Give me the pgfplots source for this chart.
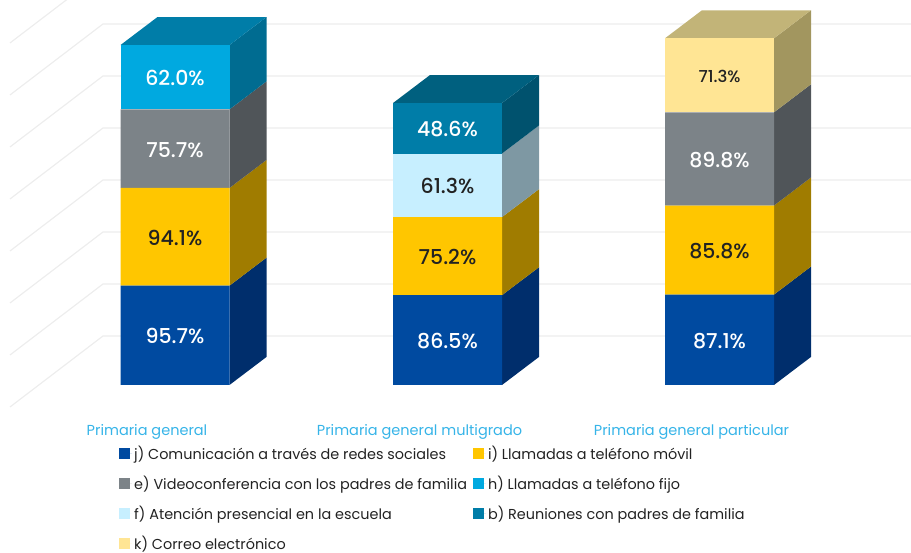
\documentclass[border=0pt]{standalone}
\usepackage{fontspec}
\setmainfont{Poppins}
\newfontfamily\medf{Poppins Medium}
\usepackage{pgfplots}
\pgfplotsset{compat=1.18}

\definecolor{cJ}{HTML}{004AA0}
\definecolor{cJs}{HTML}{002E6C}
\definecolor{cI}{HTML}{FFC600}
\definecolor{cIs}{HTML}{A07C00}
\definecolor{cE}{HTML}{7C8388}
\definecolor{cEs}{HTML}{505559}
\definecolor{cH}{HTML}{00A9E0}
\definecolor{cHs}{HTML}{006C91}
\definecolor{cHt}{HTML}{007DA8}
\definecolor{cF}{HTML}{C7EFFF}
\definecolor{cFs}{HTML}{7E98A3}
\definecolor{cB}{HTML}{007DA8}
\definecolor{cBs}{HTML}{00526E}
\definecolor{cBt}{HTML}{00607F}
\definecolor{cK}{HTML}{FFE594}
\definecolor{cKs}{HTML}{A2965F}
\definecolor{cKt}{HTML}{C2B478}
\definecolor{gridc}{HTML}{EDEDED}
\definecolor{catc}{HTML}{36B4E8}
\definecolor{txtc}{HTML}{222222}

\pgfplotsset{
  canvas/.style={
    at={(0,0)}, anchor=south west,
    x=1pt, y=1.038pt,
    xmin=0, xmax=911,
    ymin=-160.9, ymax=370.9,
  },
}

\begin{document}
\begin{tikzpicture}
\useasboundingbox (0,0) rectangle (911pt,552pt);

% grid and the sides of the boxes
\begin{axis}[canvas, hide axis]
\pgfplotsinvokeforeach{47.2,97.3,147.4,197.5,247.6,297.7,347.8,397.9}{
  \pgfmathsetmacro\yy{#1}
  \pgfmathsetmacro\yl{#1-68.4}
  \edef\tmp{\noexpand\addplot[gridc, line width=1.2pt, forget plot] coordinates {(10,\yl) (103,\yy) (911,\yy)};}
  \tmp
}
% Primaria general
\addplot[fill=cJs, draw=none] coordinates {(229.5,0) (266.5,27) (266.5,122.7) (229.5,95.7)};
\addplot[fill=cIs, draw=none] coordinates {(229.5,95.7) (266.5,122.7) (266.5,216.8) (229.5,189.8)};
\addplot[fill=cEs, draw=none] coordinates {(229.5,189.8) (266.5,216.8) (266.5,292.5) (229.5,265.5)};
\addplot[fill=cHs, draw=none] coordinates {(229.5,265.5) (266.5,292.5) (266.5,354.5) (229.5,327.5)};
\addplot[fill=cHt, draw=none] coordinates {(120.5,327.5) (229.5,327.5) (266.5,354.5) (157.5,354.5)};
% multigrado
\addplot[fill=cJs, draw=none] coordinates {(502,0) (539,27) (539,113.5) (502,86.5)};
\addplot[fill=cIs, draw=none] coordinates {(502,86.5) (539,113.5) (539,188.7) (502,161.7)};
\addplot[fill=cFs, draw=none] coordinates {(502,161.7) (539,188.7) (539,250) (502,223)};
\addplot[fill=cBs, draw=none] coordinates {(502,223) (539,250) (539,298.6) (502,271.6)};
\addplot[fill=cBt, draw=none] coordinates {(393,271.6) (502,271.6) (539,298.6) (430,298.6)};
% particular
\addplot[fill=cJs, draw=none] coordinates {(774,0) (811,27) (811,114.1) (774,87.1)};
\addplot[fill=cIs, draw=none] coordinates {(774,87.1) (811,114.1) (811,199.9) (774,172.9)};
\addplot[fill=cEs, draw=none] coordinates {(774,172.9) (811,199.9) (811,289.7) (774,262.7)};
\addplot[fill=cKs, draw=none] coordinates {(774,262.7) (811,289.7) (811,361) (774,334)};
\addplot[fill=cKt, draw=none] coordinates {(665,334) (774,334) (811,361) (702,361)};
\end{axis}

% front faces
\begin{axis}[canvas,
  ybar stacked,
  bar width=109pt,
  stacked ignores zero,
  axis line style={draw=none},
  tick style={draw=none},
  ytick=\empty,
  xtick={175,447.5,719.5},
  xticklabels={Primaria general,Primaria general multigrado,Primaria general particular},
  xtick pos=bottom,
  xticklabel style={font=\fontsize{14.5}{17}\selectfont, text=catc, xshift=-28pt, yshift=131pt},
  nodes near coords={\pgfmathprintnumber[fixed,fixed zerofill,precision=1,assume math mode=true]{\pgfplotspointmeta}\%},
  every node near coord/.append style={font=\medf\fontsize{20.5}{24}\selectfont, text=white, anchor=center, yshift=-1pt},
  legend columns=2,
  legend style={
    at={(axis cs:116,-55)}, anchor=north west,
    draw=none, fill=none,
    font=\fontsize{14.4}{17}\selectfont,
    text=txtc,
    cells={anchor=west},
    row sep=11pt,
    /tikz/every even column/.style={column sep=4pt},
  },
  legend image code/.code={\fill[#1] (0pt,-5pt) rectangle (10.5pt,5.5pt);\path (0pt,0pt) -- (13pt,0pt);},
]
\addplot[fill=cJ, draw=none] coordinates {(175,95.7) (447.5,86.5) (719.5,87.1)};
\addplot[fill=cI, draw=none, every node near coord/.append style={text=txtc}] coordinates {(175,94.1) (447.5,75.2) (719.5,85.8)};
\addplot[fill=cE, draw=none] coordinates {(175,75.7) (447.5,0) (719.5,89.8)};
\addplot[fill=cH, draw=none] coordinates {(175,62.0) (447.5,0) (719.5,0)};
\addplot[fill=cF, draw=none, every node near coord/.append style={text=txtc}] coordinates {(175,0) (447.5,61.3) (719.5,0)};
\addplot[fill=cB, draw=none] coordinates {(175,0) (447.5,48.6) (719.5,0)};
\addplot[fill=cK, draw=none, every node near coord/.append style={text=txtc, font=\medf\fontsize{16.5}{20}\selectfont}] coordinates {(175,0) (447.5,0) (719.5,71.3)};
\legend{j) Comunicación a través de redes sociales, i) Llamadas a teléfono móvil,
  e) Videoconferencia con los padres de familia, h) Llamadas a teléfono fijo,
  f) Atención presencial en la escuela, b) Reuniones con padres de familia,
  k) Correo electrónico}
\end{axis}
\end{tikzpicture}
\end{document}
